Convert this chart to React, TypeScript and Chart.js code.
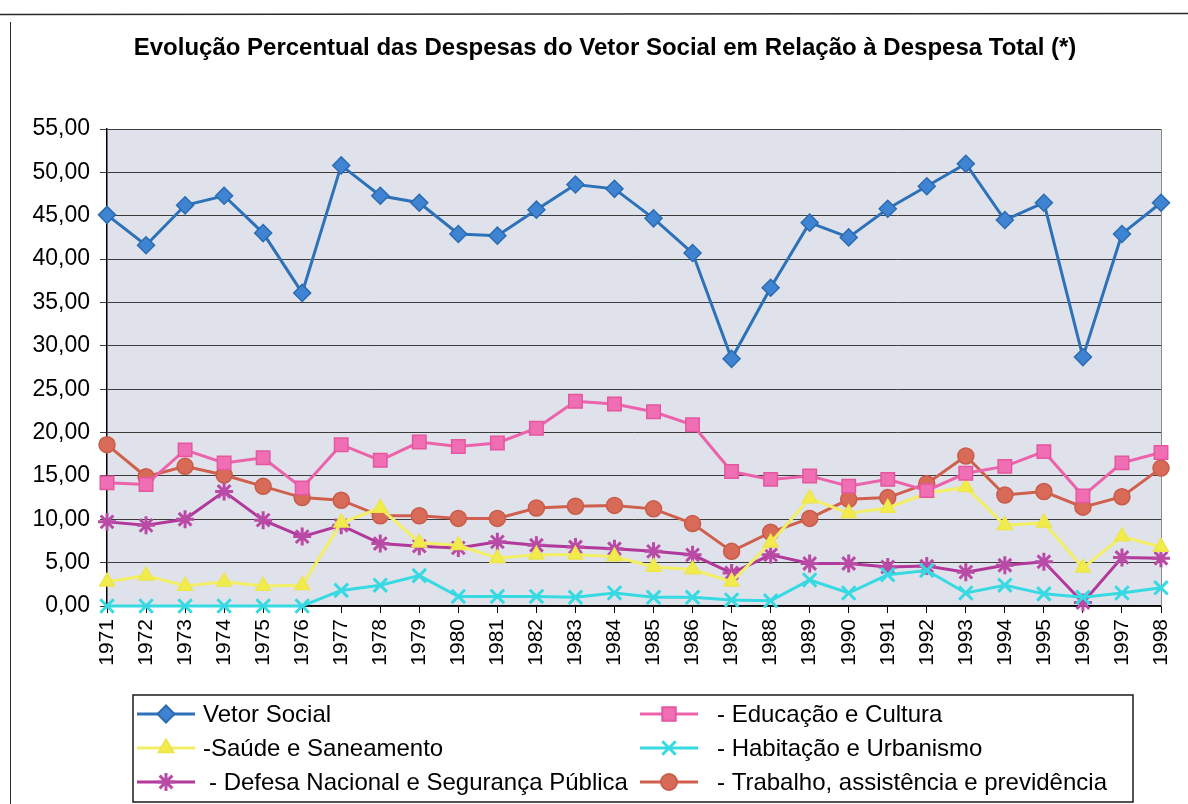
import React, { useEffect, useRef } from 'react';
import { Chart, registerables } from 'chart.js';

Chart.register(...registerables);

const FONT = '"Liberation Sans", Arial, sans-serif';

const years = [
  '1971', '1972', '1973', '1974', '1975', '1976', '1977', '1978', '1979', '1980',
  '1981', '1982', '1983', '1984', '1985', '1986', '1987', '1988', '1989', '1990',
  '1991', '1992', '1993', '1994', '1995', '1996', '1997', '1998',
];

const vetorSocial = [
  45.1, 41.6, 46.2, 47.3, 43.0, 36.1, 50.8, 47.3, 46.5, 42.9,
  42.7, 45.7, 48.6, 48.1, 44.7, 40.7, 28.5, 36.7, 44.2, 42.5,
  45.8, 48.4, 51.0, 44.5, 46.5, 28.7, 42.9, 46.5,
];

const educacaoCultura = [
  14.2, 14.0, 18.0, 16.5, 17.1, 13.6, 18.6, 16.8, 18.9, 18.4,
  18.8, 20.5, 23.6, 23.3, 22.4, 20.9, 15.5, 14.6, 15.0, 13.8,
  14.6, 13.3, 15.3, 16.1, 17.8, 12.7, 16.5, 17.7,
];

const saudeSaneamento = [
  2.8, 3.5, 2.3, 2.8, 2.3, 2.4, 9.6, 11.3, 7.3, 7.0,
  5.5, 5.9, 5.9, 5.7, 4.5, 4.2, 2.8, 7.3, 12.4, 10.7,
  11.3, 13.0, 13.7, 9.3, 9.6, 4.4, 8.0, 6.8,
];

const habitacaoUrbanismo = [
  0.0, 0.0, 0.0, 0.0, 0.0, 0.0, 1.8, 2.4, 3.5, 1.1,
  1.1, 1.1, 1.0, 1.5, 1.0, 1.0, 0.7, 0.6, 3.0, 1.5,
  3.6, 4.1, 1.5, 2.4, 1.4, 1.0, 1.5, 2.1,
];

const defesaSeguranca = [
  9.7, 9.3, 10.0, 13.2, 9.9, 8.0, 9.3, 7.2, 6.9, 6.7,
  7.4, 7.0, 6.8, 6.6, 6.3, 5.9, 3.8, 5.9, 4.9, 4.9,
  4.5, 4.6, 3.9, 4.7, 5.1, 0.4, 5.6, 5.5,
];

const trabalhoPrevidencia = [
  18.6, 14.9, 16.1, 15.1, 13.8, 12.5, 12.2, 10.4, 10.4, 10.1,
  10.1, 11.3, 11.5, 11.6, 11.2, 9.5, 6.3, 8.5, 10.1, 12.3,
  12.5, 14.1, 17.3, 12.8, 13.2, 11.4, 12.6, 15.9,
];

const seriesNames = [
  'Vetor Social',
  '- Educação e Cultura',
  '-Saúde e Saneamento',
  '- Habitação e Urbanismo',
  '- Defesa Nacional e Segurança Pública',
  '- Trabalho, assistência e previdência',
];

const titleText = 'Evolução Percentual das Despesas do Vetor Social em Relação à Despesa Total (*)';

function drawMarker(
  ctx: CanvasRenderingContext2D,
  style: string,
  x: number,
  y: number,
  r: number,
  fill: string,
  stroke: string,
) {
  ctx.save();
  ctx.fillStyle = fill;
  ctx.strokeStyle = stroke;
  ctx.lineWidth = 2;
  ctx.beginPath();
  switch (style) {
    case 'rectRot':
      ctx.moveTo(x, y - r);
      ctx.lineTo(x + r, y);
      ctx.lineTo(x, y + r);
      ctx.lineTo(x - r, y);
      ctx.closePath();
      ctx.fill();
      ctx.stroke();
      break;
    case 'rect': {
      const s = r * Math.SQRT1_2;
      ctx.rect(x - s, y - s, 2 * s, 2 * s);
      ctx.fill();
      ctx.stroke();
      break;
    }
    case 'triangle': {
      ctx.moveTo(x, y - r);
      ctx.lineTo(x + r * 0.87, y + r * 0.5);
      ctx.lineTo(x - r * 0.87, y + r * 0.5);
      ctx.closePath();
      ctx.fill();
      ctx.stroke();
      break;
    }
    case 'crossRot': {
      const d = r * Math.SQRT1_2;
      ctx.moveTo(x - d, y - d);
      ctx.lineTo(x + d, y + d);
      ctx.moveTo(x - d, y + d);
      ctx.lineTo(x + d, y - d);
      ctx.lineWidth = 3;
      ctx.stroke();
      break;
    }
    case 'star': {
      const d = r * Math.SQRT1_2;
      ctx.moveTo(x - d, y - d);
      ctx.lineTo(x + d, y + d);
      ctx.moveTo(x - d, y + d);
      ctx.lineTo(x + d, y - d);
      ctx.moveTo(x, y - r);
      ctx.lineTo(x, y + r);
      ctx.moveTo(x - r, y);
      ctx.lineTo(x + r, y);
      ctx.lineWidth = 3;
      ctx.stroke();
      break;
    }
    default:
      ctx.arc(x, y, r, 0, Math.PI * 2);
      ctx.fill();
      ctx.stroke();
  }
  ctx.restore();
}

// Page frame, plot background and the chart title
const framePlugin = {
  id: 'frame',
  beforeDraw(chart: any) {
    const { ctx, chartArea: a } = chart;
    ctx.save();
    ctx.fillStyle = '#ffffff';
    ctx.fillRect(0, 0, chart.width, chart.height);
    ctx.fillStyle = '#dfe2ea';
    ctx.fillRect(a.left, a.top, a.right - a.left, a.bottom - a.top);

    ctx.strokeStyle = '#2a2a2a';
    ctx.lineWidth = 1.5;
    ctx.beginPath();
    ctx.moveTo(0, 14.5);
    ctx.lineTo(chart.width, 13.5);
    ctx.stroke();
    ctx.lineWidth = 1;
    ctx.beginPath();
    ctx.moveTo(10.5, 22);
    ctx.lineTo(10.5, chart.height);
    ctx.stroke();

    ctx.fillStyle = '#000';
    ctx.font = `bold 24px ${FONT}`;
    ctx.textAlign = 'center';
    ctx.textBaseline = 'middle';
    ctx.fillText(titleText, 605, 48);
    ctx.restore();
  },
  beforeDatasetsDraw(chart: any) {
    const { ctx, chartArea: a } = chart;
    ctx.save();
    ctx.strokeStyle = '#8a8a8a';
    ctx.lineWidth = 1;
    ctx.beginPath();
    ctx.moveTo(a.right + 0.5, a.top);
    ctx.lineTo(a.right + 0.5, a.bottom);
    ctx.stroke();
    ctx.restore();
  },
};

// Two-column boxed legend below the axis
const boxLegendPlugin = {
  id: 'boxLegend',
  afterDraw(chart: any) {
    const { ctx } = chart;
    const box = { x: 133, y: 695, w: 1000, h: 107 };
    ctx.save();
    ctx.fillStyle = '#ffffff';
    ctx.fillRect(box.x, box.y, box.w, box.h);
    ctx.strokeStyle = '#1a1a1a';
    ctx.lineWidth = 1.5;
    ctx.strokeRect(box.x, box.y, box.w, box.h);

    const colLine = [137, 640];
    const colText = [203, 711];
    const rowY = [714, 748, 782];
    chart.data.datasets.forEach((ds: any, i: number) => {
      const col = i % 2;
      const row = Math.floor(i / 2);
      const y = rowY[row];
      const x0 = colLine[col];
      const x1 = x0 + 58;
      ctx.strokeStyle = ds.borderColor;
      ctx.lineWidth = 3;
      ctx.beginPath();
      ctx.moveTo(x0, y);
      ctx.lineTo(x1, y);
      ctx.stroke();
      drawMarker(ctx, ds.pointStyle, (x0 + x1) / 2, y, ds.pointRadius,
        ds.pointBackgroundColor, ds.pointBorderColor);
      ctx.fillStyle = '#000';
      ctx.font = `24px ${FONT}`;
      ctx.textAlign = 'left';
      ctx.textBaseline = 'middle';
      ctx.fillText(ds.label, colText[col] + (ds.label.startsWith('- ') ? 6 : 0), y + 1);
    });
    ctx.restore();
  },
};

function makeSeries(
  label: string,
  data: number[],
  line: string,
  fill: string,
  edge: string,
  pointStyle: string,
  pointRadius: number,
) {
  return {
    label,
    data,
    borderColor: line,
    borderWidth: 3,
    pointStyle,
    pointRadius,
    pointBackgroundColor: fill,
    pointBorderColor: edge,
    pointBorderWidth: pointStyle === 'crossRot' || pointStyle === 'star' ? 3 : 1.5,
    tension: 0,
    clip: false as const,
  };
}

export default function App() {
  const canvasRef = useRef<HTMLCanvasElement | null>(null);

  useEffect(() => {
    const canvas = canvasRef.current;
    if (!canvas) return;
    const chart = new Chart(canvas, {
      type: 'line',
      data: {
        labels: years,
        datasets: [
          makeSeries(seriesNames[0], vetorSocial, '#2d72b9', '#3f84d3', '#2c6bb2', 'rectRot', 8.5),
          makeSeries(seriesNames[1], educacaoCultura, '#ec62ab', '#f06eb4', '#e5579f', 'rect', 9.5),
          makeSeries(seriesNames[2], saudeSaneamento, '#f2ee66', '#f1ec4c', '#ede54a', 'triangle', 8.5),
          makeSeries(seriesNames[3], habitacaoUrbanismo, '#37d9e2', '#37d9e2', '#37d9e2', 'crossRot', 9.5),
          makeSeries(seriesNames[4], defesaSeguranca, '#b2399c', '#c7479f', '#b94aa5', 'star', 9),
          makeSeries(seriesNames[5], trabalhoPrevidencia, '#d0604d', '#d86b58', '#c85c4a', 'circle', 8),
        ] as any,
      },
      options: {
        responsive: false,
        animation: false,
        devicePixelRatio: 1,
        layout: { padding: { top: 129, right: 27, bottom: 0, left: 0 } },
        plugins: {
          legend: { display: false },
          title: { display: false },
          tooltip: { enabled: false },
        },
        scales: {
          x: {
            type: 'category',
            offset: false,
            grid: {
              drawOnChartArea: false,
              drawTicks: true,
              tickLength: 7,
              color: '#000',
            },
            border: { color: '#000', width: 1.5 },
            ticks: {
              autoSkip: false,
              minRotation: 90,
              maxRotation: 90,
              color: '#000',
              padding: 6,
              font: { family: FONT, size: 21 },
            },
            afterFit: (s: any) => {
              s.height = 198;
              s.paddingLeft = 0;
              s.paddingRight = 0;
            },
          },
          y: {
            min: 0,
            max: 55,
            grid: { color: '#3c3c3c', lineWidth: 1, tickLength: 7 },
            border: { color: '#000', width: 1.5 },
            ticks: {
              stepSize: 5,
              color: '#000',
              padding: 10,
              font: { family: FONT, size: 23 },
              callback: (v: any) => Number(v).toFixed(2).replace('.', ','),
            },
            afterFit: (s: any) => {
              s.width = 107;
              s.paddingTop = 0;
              s.paddingBottom = 0;
            },
          },
        },
      } as any,
      plugins: [framePlugin, boxLegendPlugin],
    });
    return () => chart.destroy();
  }, []);

  return (
    <div style={{ position: 'absolute', left: 0, top: 0, width: 1188, height: 804, background: '#fff' }}>
      <canvas ref={canvasRef} width={1188} height={804} />
    </div>
  );
}
